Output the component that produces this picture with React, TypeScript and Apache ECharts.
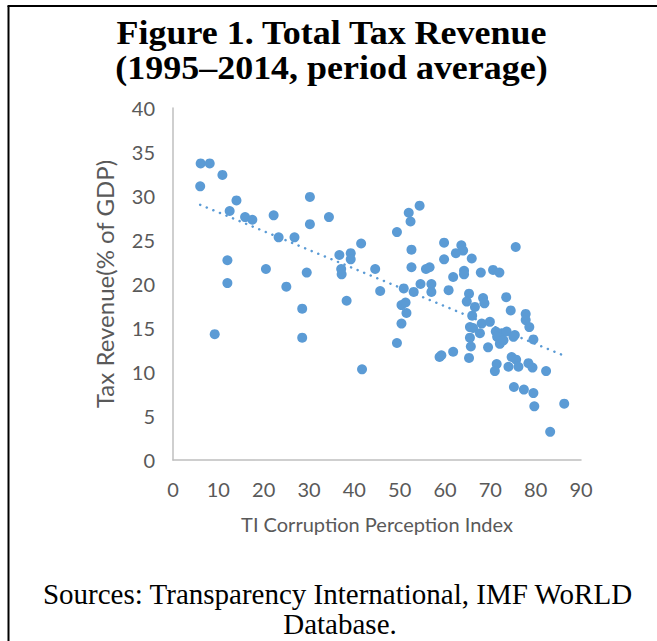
import React, { useEffect, useRef } from "react";
import * as echarts from "echarts";

const titleLines = ["Figure 1. Total Tax Revenue", "(1995\u20132014, period average)"];
const sourceLines = ["Sources: Transparency International, IMF WoRLD", "Database."];
const xAxisName = "TI Corruption Perception Index";
const yAxisName = "Tax Revenue(% of GDP)";

const cpiValues = [
  6.1, 8.1, 10.9, 6.0, 14.0, 12.5, 15.9, 17.5, 22.2, 23.3, 26.8, 12.0, 12.0, 20.5, 25.0, 28.5, 9.2, 28.5, 30.2, 30.2, 29.5,
  34.4, 36.7, 39.2, 39.2, 41.5, 37.1, 37.2, 38.3, 44.6, 45.7, 41.7, 49.4, 52.0, 54.4, 52.4, 52.6, 52.6, 55.8, 56.6,
  50.9, 53.1, 54.6, 57.0, 57.0, 50.4, 51.3, 51.5, 50.4, 49.4, 58.8,
  59.8, 63.6, 64.0, 62.4, 59.8, 65.9, 75.6, 61.8, 64.2, 64.2, 67.9, 70.6, 72.0, 60.8, 65.3, 64.8, 68.4, 68.7, 66.6,
  73.5, 74.5, 66.0, 65.5, 66.2, 68.1, 69.9, 67.7, 71.2, 72.5, 71.5, 73.6, 75.4, 72.1, 72.9, 65.5, 65.7, 69.5, 61.8,
  59.2, 65.3, 71.4, 74.7, 75.7, 71.0, 74.0, 76.2,
  77.8, 77.8, 78.6, 75.1, 79.5, 78.4, 79.3, 82.3, 75.2, 77.4, 79.5, 79.7, 86.3, 83.2,
];
const taxValues = [
  33.7, 33.7, 32.4, 31.1, 29.5, 28.3, 27.6, 27.3, 27.8, 25.3, 25.3, 22.7, 20.1, 21.7, 19.7, 17.2, 14.3, 13.9, 29.9, 26.8, 21.3,
  27.6, 23.3, 23.5, 22.8, 24.6, 21.7, 21.1, 18.1, 21.7, 19.2, 10.3, 25.9, 28.1, 28.9, 27.1, 23.9, 21.9, 21.7, 21.9,
  19.5, 19.1, 20.0, 20.0, 19.1, 17.6, 17.9, 16.7, 15.5, 13.3, 11.7,
  24.7, 24.4, 23.8, 23.5, 22.8, 22.9, 24.2, 20.8, 21.5, 21.1, 21.3, 21.6, 21.3, 19.3, 18.9, 18.0, 18.4, 17.8, 17.4,
  18.5, 17.0, 16.4, 15.1, 15.0, 15.5, 15.7, 14.4, 14.6, 14.4, 14.0, 14.6, 14.2, 13.2, 13.6, 13.9, 12.9, 12.8, 12.3,
  11.9, 11.6, 10.9, 11.7, 11.4, 10.1, 10.6, 10.6,
  16.6, 15.9, 15.1, 14.0, 13.7, 11.0, 10.5, 10.1, 8.3, 8.0, 7.6, 6.1, 6.4, 3.2,
];
const trendX = [6.0, 86.5];
const trendY = [29.0, 11.8];

const BLUE = "#5B9BD5";
const AXIS_GREY = "#BFBFBF";
const LABEL_GREY = "#595959";
const SANS = "Lato, 'Open Sans', sans-serif";
const SERIF = "'Liberation Serif', 'DejaVu Serif', serif";

export default function App() {
  const ref = useRef<HTMLDivElement>(null);
  useEffect(() => {
    if (!ref.current) return;
    const chart = echarts.init(ref.current, undefined, { renderer: "svg" });
    const points = cpiValues.map((x, i) => [x, taxValues[i]]);
    const trend = trendX.map((x, i) => [x, trendY[i]]);
    const titleText = (t: string, y: number) => ({
      type: "text",
      x: 331.5,
      y,
      scaleX: 1.09,
      style: { x: 0, y: 0, text: t, fill: "#000", font: `bold 33px ${SERIF}`, textAlign: "center", textVerticalAlign: "middle" },
    });
    chart.setOption({
      animation: false,
      backgroundColor: "#ffffff",
      grid: { left: 173, right: 76, top: 108, bottom: 181, containLabel: false },
      xAxis: {
        type: "value",
        min: 0,
        max: 90,
        interval: 10,
        name: xAxisName,
        nameLocation: "middle",
        nameGap: 54,
        nameTextStyle: { color: LABEL_GREY, fontFamily: SANS, fontSize: 20 },
        axisLine: { show: true, lineStyle: { color: AXIS_GREY, width: 1.5 } },
        axisTick: { show: false },
        splitLine: { show: false },
        axisLabel: { color: LABEL_GREY, fontFamily: SANS, fontSize: 20, margin: 19 },
      },
      yAxis: {
        type: "value",
        min: 0,
        max: 40,
        interval: 5,
        name: yAxisName,
        nameLocation: "middle",
        nameGap: 57,
        nameTextStyle: { color: LABEL_GREY, fontFamily: SANS, fontSize: 24 },
        axisLine: { show: true, lineStyle: { color: AXIS_GREY, width: 1.5 } },
        axisTick: { show: false },
        splitLine: { show: false },
        axisLabel: { color: LABEL_GREY, fontFamily: SANS, fontSize: 20, margin: 18 },
      },
      series: [
        {
          type: "scatter",
          data: points,
          symbol: "circle",
          symbolSize: 10,
          itemStyle: { color: BLUE, opacity: 1 },
          z: 3,
        },
        {
          type: "line",
          data: trend,
          symbol: "none",
          lineStyle: { color: BLUE, width: 2.5, type: [0.1, 7], cap: "round" },
          z: 2,
        },
      ],
      graphic: [
        { type: "line", shape: { x1: 8.5, y1: 6, x2: 8.5, y2: 641 }, style: { stroke: "#000", lineWidth: 2 } },
        { type: "line", shape: { x1: 7.5, y1: 6, x2: 657, y2: 6 }, style: { stroke: "#000", lineWidth: 2 } },
        titleText(titleLines[0], 33),
        titleText(titleLines[1], 68),
        {
          type: "text",
          x: 337.5,
          y: 594,
          style: { text: sourceLines[0], fill: "#000", font: `29px ${SERIF}`, textAlign: "center", textVerticalAlign: "middle" },
        },
        {
          type: "text",
          x: 340,
          y: 624,
          style: { text: sourceLines[1], fill: "#000", font: `29px ${SERIF}`, textAlign: "center", textVerticalAlign: "middle" },
        },
      ],
    });
    return () => chart.dispose();
  }, []);
  return <div ref={ref} style={{ position: "fixed", left: 0, top: 0, width: 657, height: 641 }} />;
}
